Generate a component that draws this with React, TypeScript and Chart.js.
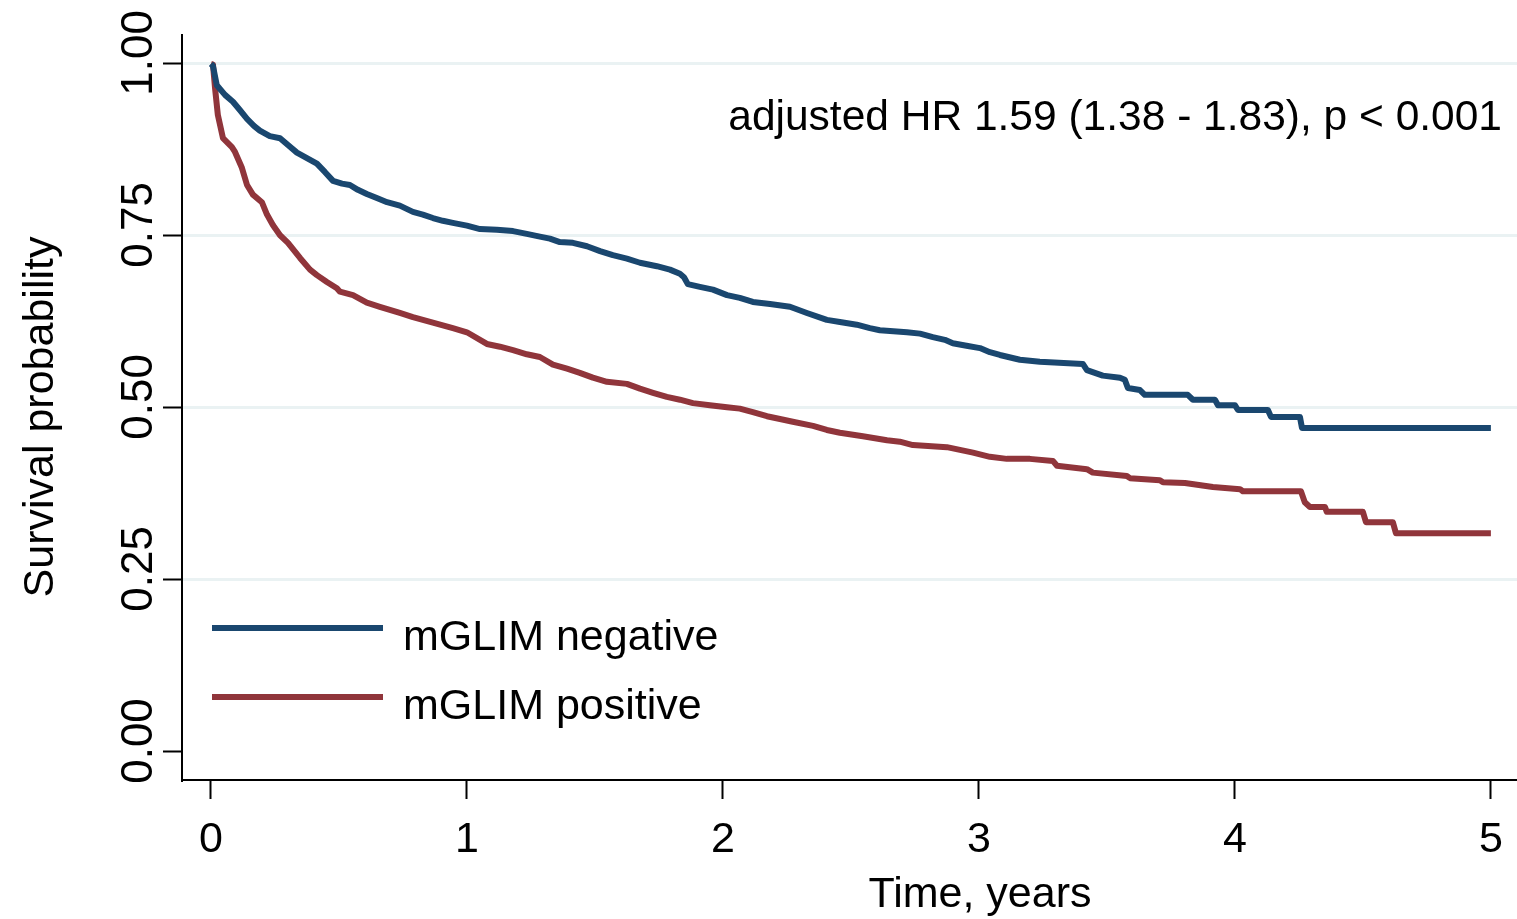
import React, { useEffect, useRef } from "react";
import { Chart, registerables } from "chart.js";

Chart.register(...registerables);

// Kaplan-Meier curve vertices (time in years, survival probability)
const negTime = [0, 0.008, 0.023, 0.055, 0.086, 0.113, 0.141, 0.168, 0.191, 0.23, 0.27, 0.301, 0.336, 0.375, 0.414, 0.445, 0.477, 0.512, 0.543, 0.574, 0.609, 0.648, 0.688, 0.738, 0.789, 0.828, 0.867, 0.906, 0.945, 1.0, 1.051, 1.117, 1.18, 1.234, 1.285, 1.324, 1.363, 1.414, 1.469, 1.52, 1.57, 1.625, 1.676, 1.742, 1.793, 1.832, 1.848, 1.863, 1.91, 1.961, 2.016, 2.066, 2.117, 2.184, 2.262, 2.328, 2.406, 2.457, 2.523, 2.574, 2.613, 2.719, 2.77, 2.82, 2.867, 2.898, 2.957, 3.004, 3.043, 3.082, 3.16, 3.238, 3.406, 3.422, 3.484, 3.551, 3.57, 3.582, 3.629, 3.648, 3.816, 3.836, 3.922, 3.934, 4.0, 4.012, 4.129, 4.141, 4.254, 4.262, 5.0];
const negSurv = [1.0, 0.997, 0.969, 0.955, 0.945, 0.933, 0.92, 0.91, 0.903, 0.895, 0.892, 0.882, 0.871, 0.863, 0.855, 0.843, 0.83, 0.826, 0.824, 0.817, 0.811, 0.805, 0.799, 0.794, 0.785, 0.781, 0.776, 0.772, 0.769, 0.765, 0.76, 0.759, 0.757, 0.753, 0.749, 0.746, 0.741, 0.74, 0.735, 0.728, 0.722, 0.717, 0.711, 0.706, 0.701, 0.695, 0.69, 0.68, 0.676, 0.672, 0.664, 0.66, 0.654, 0.651, 0.647, 0.638, 0.628, 0.625, 0.621, 0.616, 0.613, 0.61, 0.608, 0.603, 0.599, 0.594, 0.59, 0.587, 0.581, 0.577, 0.57, 0.567, 0.564, 0.555, 0.547, 0.544, 0.541, 0.529, 0.526, 0.519, 0.519, 0.512, 0.512, 0.504, 0.504, 0.497, 0.497, 0.487, 0.487, 0.471, 0.471];

const posTime = [0, 0.008, 0.016, 0.027, 0.047, 0.082, 0.094, 0.121, 0.141, 0.164, 0.199, 0.219, 0.242, 0.27, 0.301, 0.348, 0.387, 0.414, 0.453, 0.492, 0.504, 0.555, 0.609, 0.66, 0.738, 0.789, 0.867, 0.945, 1.0, 1.078, 1.129, 1.18, 1.234, 1.285, 1.336, 1.391, 1.441, 1.492, 1.547, 1.625, 1.676, 1.727, 1.781, 1.832, 1.883, 1.949, 2.016, 2.066, 2.117, 2.172, 2.223, 2.273, 2.352, 2.406, 2.457, 2.547, 2.641, 2.691, 2.742, 2.875, 2.926, 2.977, 3.043, 3.109, 3.199, 3.289, 3.305, 3.422, 3.445, 3.578, 3.59, 3.707, 3.719, 3.805, 3.914, 4.02, 4.031, 4.258, 4.273, 4.293, 4.352, 4.359, 4.5, 4.512, 4.617, 4.629, 5.0];
const posSurv = [1.0, 0.999, 0.965, 0.926, 0.892, 0.879, 0.872, 0.849, 0.824, 0.81, 0.799, 0.781, 0.766, 0.751, 0.74, 0.718, 0.701, 0.693, 0.683, 0.674, 0.669, 0.664, 0.653, 0.647, 0.638, 0.632, 0.624, 0.616, 0.61, 0.593, 0.589, 0.584, 0.578, 0.574, 0.563, 0.557, 0.551, 0.544, 0.538, 0.535, 0.528, 0.522, 0.516, 0.512, 0.507, 0.504, 0.501, 0.499, 0.494, 0.488, 0.484, 0.48, 0.474, 0.468, 0.464, 0.459, 0.453, 0.451, 0.446, 0.443, 0.439, 0.435, 0.429, 0.426, 0.426, 0.423, 0.416, 0.411, 0.406, 0.401, 0.398, 0.395, 0.392, 0.391, 0.385, 0.382, 0.379, 0.379, 0.363, 0.356, 0.356, 0.349, 0.349, 0.334, 0.334, 0.318, 0.318];

const xTicks = [0, 1, 2, 3, 4, 5];
const yTicks = [0, 0.25, 0.5, 0.75, 1];
const yTickLabels = ["0.00", "0.25", "0.50", "0.75", "1.00"];
const seriesNames = ["mGLIM negative", "mGLIM positive"];
const seriesColors = ["#1a476f", "#90353b"];
const xTitle = "Time, years";
const yTitle = "Survival probability";
const annotation = "adjusted HR 1.59 (1.38 - 1.83), p < 0.001";

const FONT = '"Liberation Sans", Arial, Helvetica, sans-serif';

export default function App() {
  const ref = useRef<HTMLCanvasElement | null>(null);

  useEffect(() => {
    document.body.style.margin = "0";
    const canvas = ref.current;
    if (!canvas) return;

    const textPlugin = {
      id: "textPlugin",
      afterDraw(chart: any) {
        const ctx = chart.ctx as CanvasRenderingContext2D;
        const xs = chart.scales.x;
        const ys = chart.scales.y;
        ctx.save();
        ctx.fillStyle = "#000";
        ctx.font = `43px ${FONT}`;
        ctx.textAlign = "center";
        ctx.textBaseline = "alphabetic";
        xTicks.forEach((v) => {
          ctx.fillText(String(v), xs.getPixelForValue(v), 852);
        });
        ctx.fillText(xTitle, 980, 907);
        ctx.font = `44px ${FONT}`;
        yTicks.forEach((v, i) => {
          ctx.save();
          ctx.translate(152, ys.getPixelForValue(v) - 11);
          ctx.rotate(-Math.PI / 2);
          ctx.textAlign = "center";
          ctx.fillText(yTickLabels[i], 0, 0);
          ctx.restore();
        });
        ctx.font = `43px ${FONT}`;
        ctx.save();
        ctx.translate(53, 417);
        ctx.rotate(-Math.PI / 2);
        ctx.textAlign = "center";
        ctx.fillText(yTitle, 0, 0);
        ctx.restore();
        ctx.font = `42.5px ${FONT}`;
        ctx.textAlign = "right";
        ctx.fillText(annotation, 1502, 130);
        ctx.font = `43px ${FONT}`;
        const legendY = [628, 697];
        seriesNames.forEach((name, i) => {
          ctx.strokeStyle = seriesColors[i];
          ctx.lineWidth = 6;
          ctx.lineCap = "butt";
          ctx.beginPath();
          ctx.moveTo(212, legendY[i]);
          ctx.lineTo(383, legendY[i]);
          ctx.stroke();
          ctx.textAlign = "left";
          ctx.fillStyle = "#000";
          ctx.fillText(name, 403, legendY[i] + 22);
        });
        ctx.restore();
      },
    };

    const chart = new Chart(canvas, {
      type: "line",
      data: {
        datasets: [
          {
            label: seriesNames[0],
            data: negTime.map((t, i) => ({ x: t, y: negSurv[i] })),
            borderColor: seriesColors[0],
            borderWidth: 6,
            pointRadius: 0,
            tension: 0,
            borderJoinStyle: "round",
            borderCapStyle: "butt",
          },
          {
            label: seriesNames[1],
            data: posTime.map((t, i) => ({ x: t, y: posSurv[i] })),
            borderColor: seriesColors[1],
            borderWidth: 6,
            pointRadius: 0,
            tension: 0,
            borderJoinStyle: "round",
            borderCapStyle: "butt",
          },
        ],
      },
      options: {
        animation: false,
        responsive: true,
        maintainAspectRatio: false,
        layout: { padding: { top: 35, right: 0, left: 0, bottom: 0 } },
        plugins: {
          legend: { display: false },
          tooltip: { enabled: false },
          title: { display: false },
        },
        scales: {
          x: {
            type: "linear",
            min: -0.113,
            max: 5.102,
            afterBuildTicks: (scale: any) => {
              scale.ticks = xTicks.map((v) => ({ value: v }));
            },
            afterFit: (scale: any) => {
              scale.height = 139;
            },
            ticks: { display: false },
            grid: {
              display: true,
              drawOnChartArea: false,
              drawTicks: true,
              tickLength: 19,
              tickColor: "#000",
              tickWidth: 2,
            },
            border: { display: true, color: "#000", width: 2 },
          },
          y: {
            type: "linear",
            min: -0.0407,
            max: 1.042,
            afterBuildTicks: (scale: any) => {
              scale.ticks = yTicks.map((v) => ({ value: v }));
            },
            afterFit: (scale: any) => {
              scale.width = 182;
            },
            ticks: { display: false },
            grid: {
              display: true,
              drawOnChartArea: true,
              drawTicks: true,
              tickLength: 19,
              color: (ctx: any) =>
                ctx.tick && ctx.tick.value === 0 ? "rgba(0,0,0,0)" : "#eaf2f3",
              lineWidth: 3,
              tickColor: "#000",
              tickWidth: 2,
            },
            border: { display: true, color: "#000", width: 2 },
          },
        },
      },
      plugins: [textPlugin],
    });

    return () => chart.destroy();
  }, []);

  return (
    <div style={{ width: 1517, height: 919, position: "relative" }}>
      <canvas ref={ref} />
    </div>
  );
}
